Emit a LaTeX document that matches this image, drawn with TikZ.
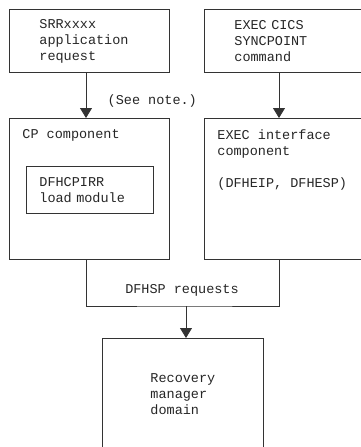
\documentclass[tikz,border=0pt]{standalone}
\usepackage{fontspec}
\setmonofont{Liberation Mono}
\usepackage{tikz}
\usetikzlibrary{arrows.meta, positioning}

\begin{document}
\begin{tikzpicture}[x=1pt, y=-1pt, line width=0.8pt, draw=black!80, text=black!85,
		font=\ttfamily\fontsize{13.5pt}{16pt}\selectfont,
		box/.style={draw, rectangle, anchor=north west, align=left},
		arr/.style={-{Triangle[width=12pt, length=10pt]}}]
		\useasboundingbox (0,0) rectangle (361,447);
		\clip (0,0) rectangle (361,447);
		\node[box, minimum width=160pt, minimum height=63pt, text width=100pt] (srr) at (9, 9) {SRRxxxx\\application\\request};
		\node[box, minimum width=200pt, minimum height=63pt, text width=140pt] (exec) at (204, 9) {EXEC CICS\\SYNCPOINT\\command};
		\node[box, minimum width=160pt, minimum height=141pt, label={[anchor=north west, inner xsep=13pt, inner ysep=11pt] north west:CP component}] (cp) at (9, 118) {};
		\node[box, minimum width=127pt, minimum height=47pt, text width=101pt] (cpirr) at (26, 166) {DFHCPIRR\\load module};
		\node[box, minimum width=200pt, minimum height=141pt, label={[anchor=north west, align=left, inner xsep=13pt, inner ysep=11pt] north west:{EXEC interface\\component\\[16pt](DFHEIP, DFHESP)}}] (execif) at (204, 118) {};
		\node[box, minimum width=161pt, minimum height=111pt] (rm) at (102, 338) {Recovery\\manager\\domain};
		\node (req) at (182, 290) {DFHSP requests};
		\coordinate (join) at (186, 306);
		\draw[arr] ([xshift=77pt]srr.south west) -- node[pos=0.63, anchor=west, xshift=18pt] (note) {(See note.)} ([xshift=77pt]cp.north west);
		\draw[arr] ([xshift=75pt]exec.south west) -- ([xshift=75pt]execif.north west);
		\draw ([xshift=77pt]cp.south west) |- (join) -| ([xshift=75pt]execif.south west);
		\draw[arr] (join) -- ([xshift=84pt]rm.north west);
	\end{tikzpicture}
\end{document}
